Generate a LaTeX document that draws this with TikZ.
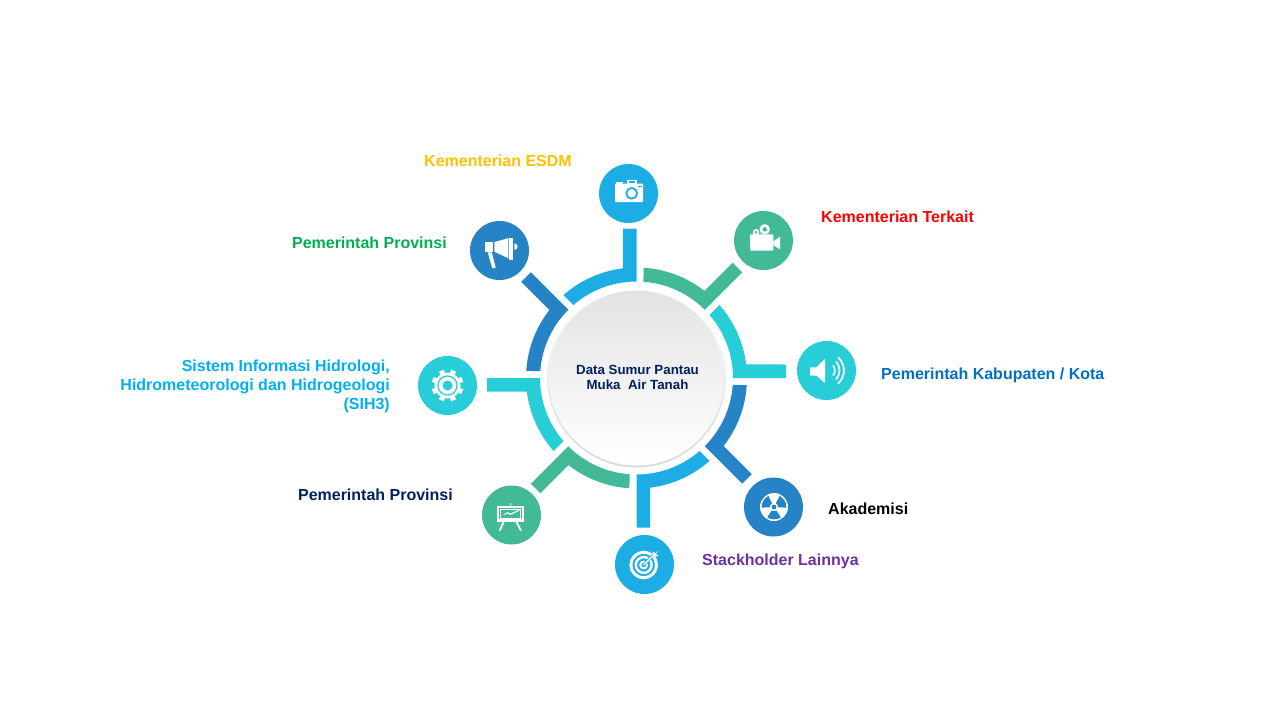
\documentclass[tikz,border=0pt]{standalone}
\usepackage{fontspec}
\setmainfont{Liberation Sans}
\definecolor{skyblue}{HTML}{1CADE4}
\definecolor{deepblue}{HTML}{2683C6}
\definecolor{tealblue}{HTML}{27CED7}
\definecolor{seagreen}{HTML}{42BA97}
\definecolor{navytext}{HTML}{002060}
\tikzset{
    bubble/.style={circle, minimum size=59pt, inner sep=0pt},
    caption/.style={font=\fontsize{16}{19}\selectfont\bfseries, inner sep=0pt, text height=11.5pt, text depth=3.5pt},
    pics/cameraicon/.style={code={
        \fill[white, rounded corners=0.6pt] (-13.5,-8.5) rectangle (14.5,10);
        \fill[white] (-12.5,9) rectangle (-6,11.8);
        \fill[white] (-1.8,9) rectangle (8.2,13.5);
        \fill[#1] (0,10.8) rectangle (6.4,12.2);
        \fill[#1] (9.6,6.3) rectangle (13,7.2);
        \draw[#1, line width=1.8pt] (3.2,0.2) circle (5.4);
    }},
    pics/horn/.style={code={
        \fill[white] (-14.5,8.8) rectangle (-6.2,-1.2);
        \fill[white] (-5.2,8.4) -- (8.8,12.4) -- (8.8,-7.8) -- (-5.2,-1.2) -- cycle;
        \fill[white] (9.6,13) rectangle (13.8,-9);
        \fill[white] (14.8,7.2) arc[start angle=90, end angle=-90, radius=3.3] -- cycle;
        \fill[white] (-11.8,-1.8) -- (-7.8,-1.8) -- (-3.8,-17.2) -- (-7.2,-17.8) -- cycle;
    }},
    pics/videoicon/.style={code={
        \fill[white, rounded corners=1pt] (-13.5,6.2) rectangle (9.8,-10.2);
        \fill[white] (9.8,-0.8) -- (16.5,3.8) -- (16.5,-8.8) -- (9.8,-4.8) -- cycle;
        \draw[white, line width=2.6pt] (1.2,11.2) circle (3.8);
        \draw[white, line width=1.8pt] (-7.5,8.2) circle (2.3);
    }},
    pics/speakericon/.style={code={
        \fill[white, rounded corners=0.8pt] (-16.5,3.2) -- (-9.8,3.2) -- (-1.5,12.2) -- (-1.5,-12.8) -- (-9.8,-5.2) -- (-16.5,-5.2) -- cycle;
        \draw[white, line width=1.7pt, line cap=round] (35:8.3) arc[start angle=35, end angle=-35, radius=8.3];
        \draw[white, line width=1.7pt, line cap=round] (42:13) arc[start angle=42, end angle=-42, radius=13];
        \draw[white, line width=1.7pt, line cap=round] (48:17.5) arc[start angle=48, end angle=-48, radius=17.5];
    }},
    pics/trefoil/.style={code={
        \fill[white] (0.5,0) circle (14);
        \foreach \a in {30,150,270}{
            \fill[#1] ([shift={(0.5,0)}]\a-33:4.2) arc[start angle=\a-33, end angle=\a+33, radius=4.2]
                -- ([shift={(0.5,0)}]\a+33:12.4) arc[start angle=\a+33, end angle=\a-33, radius=12.4] -- cycle;
        }
        \fill[#1] (0.5,0) circle (2.4);
    }},
    pics/targeticon/.style={code={
        \draw[white, line width=3pt] (-0.8,-0.5) circle (12.8);
        \draw[white, line width=2.4pt] (-0.8,-0.5) circle (7.9);
        \draw[white, line width=2pt] (-0.8,-0.5) circle (3.4);
        \draw[#1, line width=3pt] (-0.8,-0.5) -- (10,10.5);
        \draw[white, line width=1.4pt] (-0.8,-0.5) -- (10,10.5);
        \fill[white] (8.2,7.6) -- (8.2,13) -- (11,11.2) -- (13.8,13.8) -- (11.4,10.6) -- (14.2,8.4) -- cycle;
    }},
    pics/boardicon/.style={code={
        \draw[white, line width=2.4pt] (-13.3,7.8) rectangle (11.6,-5.5);
        \draw[white, line width=0.8pt] (-10.8,5.3) rectangle (9.1,-3);
        \draw[white, line width=1.1pt] (-7.8,0) -- (-3.8,2.3) -- (-1.2,0.7) -- (3.2,2.7) -- (7.8,5);
        \draw[white, line width=1.5pt] (-1.2,11.7) -- (-1.2,9);
        \draw[white, line width=1.8pt] (-7.8,-6.7) -- (-11.8,-15.7) (4.8,-6.7) -- (9.5,-15.7);
    }},
    pics/gearicon/.style={code={
        \foreach \a in {22.5,67.5,...,337.5}{
            \fill[white, rotate=\a] (10,-2.6) rectangle (16,2.6);
        }
        \fill[white] (0,0) circle (13);
        \fill[#1] (0,0) circle (10.2);
        \fill[white] (0,0) circle (8.8);
        \fill[#1] (0,0) circle (5);
    }},
}
\begin{document}
\begin{tikzpicture}[x=1pt, y=1pt]
    \useasboundingbox (0,0) rectangle (1280,-720);
    \coordinate (hub) at (636.5,-378);
    % ring pieces, each with its stem
    \foreach \a/\c in {90/skyblue, 45/seagreen, 0/tealblue, -45/deepblue, -90/skyblue, -135/seagreen, 180/tealblue, 135/deepblue}{
        \begin{scope}[shift={(hub)}, rotate=\a]
            \fill[\c] (40.86:96.5) -- (41.35:110.5) arc[start angle=41.35, end angle=7.05, radius=110.5]
                -- (149.5,13.5) -- (149.5,0) -- (96.5,0) arc[start angle=0, end angle=40.86, radius=96.5] -- cycle;
        \end{scope}
    }
    % centre disc
    \shade[top color=white, bottom color=black!14] (hub) circle (89.5);
    \node[circle, minimum size=175pt, inner sep=0pt, top color=black!11, bottom color=white] (centre) at (hub) {};
    \node[text=navytext, align=center, inner sep=0pt,
        font=\fontsize{13.3}{15}\selectfont\bfseries] (centretext) at (637.5,-377) {Data Sumur Pantau\\Muka ~Air Tanah};
    % bubbles
    \node[bubble, fill=skyblue] (esdm) at (628.5,-193.5) {};
    \node[bubble, fill=seagreen] (terkait) at (763.5,-240.5) {};
    \node[bubble, fill=tealblue] (kota) at (826.5,-370.5) {};
    \node[bubble, fill=deepblue] (akademisi) at (773.5,-507) {};
    \node[bubble, fill=skyblue] (lainnya) at (644.5,-564.5) {};
    \node[bubble, fill=seagreen] (provlow) at (511.5,-515) {};
    \node[bubble, fill=tealblue] (hidro) at (447.5,-385.5) {};
    \node[bubble, fill=deepblue] (provup) at (499.5,-250.5) {};
    % icons
    \pic at (esdm) {cameraicon=skyblue};
    \pic at (terkait) {videoicon};
    \pic at (kota) {speakericon};
    \pic at (akademisi) {trefoil=deepblue};
    \pic at (lainnya) {targeticon=skyblue};
    \pic at (provlow) {boardicon};
    \pic at (hidro) {gearicon=tealblue};
    \pic at (provup) {horn};
    % captions
    \node[caption, anchor=west, text={rgb,255:red,255;green,192;blue,0}] (esdmtext) at (424,-162.5) {Kementerian ESDM};
    \node[caption, anchor=west, text=red] (terkaittext) at (821,-218.5) {Kementerian Terkait};
    \node[caption, anchor=west, text={rgb,255:red,0;green,112;blue,192}] (kotatext) at (881,-375.5) {Pemerintah Kabupaten / Kota};
    \node[caption, anchor=west, text=black] (akademisitext) at (828,-510.5) {Akademisi};
    \node[caption, anchor=west, text={rgb,255:red,112;green,48;blue,160}] (lainnyatext) at (702,-561.5) {Stackholder Lainnya};
    \node[caption, anchor=east, text=navytext] (provlowtext) at (453,-496.5) {Pemerintah Provinsi};
    \node[caption, anchor=east, text={rgb,255:red,0;green,176;blue,240}, text height=, text depth=, align=right] (hidrotext) at (390,-386.5) {Sistem Informasi Hidrologi,\\Hidrometeorologi dan Hidrogeologi\\(SIH3)};
    \node[caption, anchor=east, text={rgb,255:red,0;green,176;blue,80}] (provuptext) at (447,-244.5) {Pemerintah Provinsi};
\end{tikzpicture}
\end{document}
